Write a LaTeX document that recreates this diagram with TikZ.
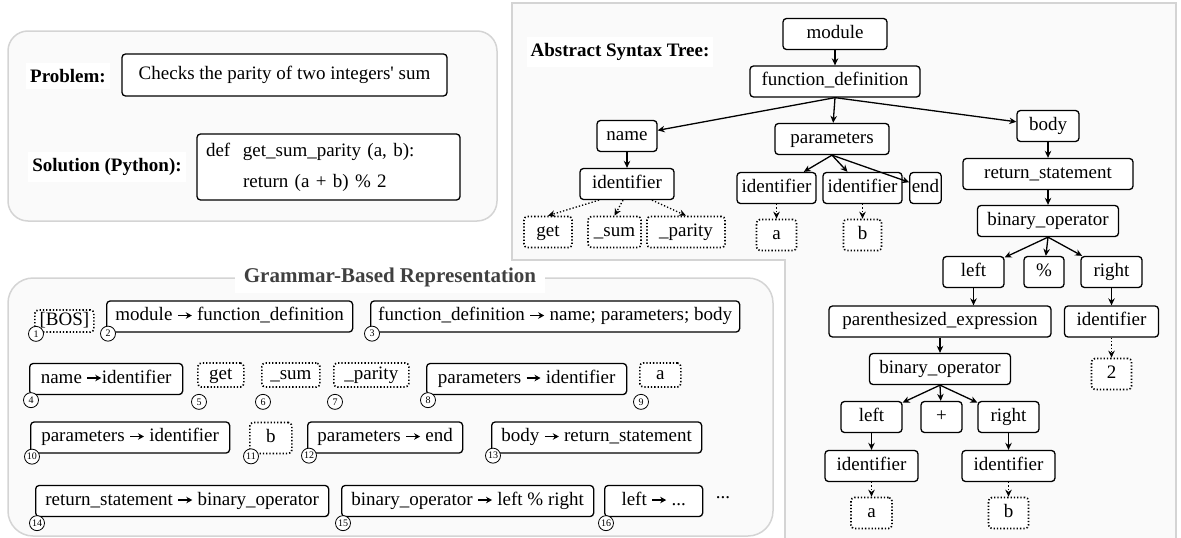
\documentclass[tikz,border=0pt]{standalone}
\usepackage{fontspec}
\setmainfont{Liberation Serif}
\usetikzlibrary{arrows.meta}
\definecolor{panelfill}{HTML}{FAFAFA}
\definecolor{panelline}{HTML}{D4D4D4}
\definecolor{titlegray}{HTML}{404040}
\newcommand{\ra}{\tikz[baseline=-0.6ex]\draw[-{Stealth[length=6pt,width=6.5pt]}, line width=1.2pt, solid] (0pt,0pt) -- (14pt,0pt);}

\begin{document}
\begin{tikzpicture}[x=1pt, y=-1pt,
    box/.style={draw, rounded corners=3.5pt, fill=white, line width=1.3pt, font=\fontsize{19}{22}\selectfont},
    ast/.style={box, minimum height=31pt, text height=13pt, text depth=4.5pt, inner xsep=2pt, inner ysep=0pt},
    tok/.style={ast, dotted, line width=1.7pt},
    rule/.style={ast, anchor=west},
    gtok/.style={tok, anchor=west},
    num/.style={draw, circle, fill=white, line width=0.8pt, inner sep=0pt, minimum size=15pt, font=\fontsize{10}{10}\selectfont},
    edge/.style={-{Stealth[length=7pt,width=6.5pt]}, line width=1.3pt},
    leafedge/.style={edge, dotted},
    panel/.style={fill=panelfill, draw=panelline, line width=1.5pt},
    heading/.style={fill=white, font=\fontsize{19}{22}\selectfont\bfseries, inner xsep=4pt, inner ysep=6pt}]
\useasboundingbox (0,0) rectangle (1181,538);

\fill[panelfill] (512,3) -- (1176,3) -- (1176,540) -- (785,540) -- (785,260) -- (512,260) -- cycle;
\draw[panelline, line width=1.5pt] (785,540) -- (785,260) -- (512,260) -- (512,3) -- (1176,3) -- (1176,540);
\draw[panel, rounded corners=20pt] (8,31) rectangle (497,221);
\draw[panel, rounded corners=25pt] (8,278) rectangle (773,536);

\node[heading] (probhead) at (68,76) {Problem:};
\node[box, minimum width=325pt, minimum height=42pt] (problem) at (284.5,75) {Checks the parity of two integers\textquotesingle{} sum};
\node[heading] (solhead) at (107,167) {Solution (Python):};
\node[box, text width=245pt, inner xsep=9pt, minimum height=66pt, align=left] (solution) at (328.5,167)
  {def\ \ get\_sum\_parity (a, b):\\[9pt]\hspace*{37pt}return (a + b) \% 2};

\node[heading] (asthead) at (620,52) {Abstract Syntax Tree:};
\node[ast, minimum width=104pt] (module) at (835,34) {module};
\node[ast, minimum width=170pt] (fundef) at (835,81.5) {function\_definition};
\node[ast, minimum width=60pt] (name) at (627,136) {name};
\node[ast, minimum width=114pt] (params) at (832,139) {parameters};
\node[ast, minimum width=62pt] (body) at (1048,126) {body};
\node[ast, minimum width=94pt] (nameid) at (627,184) {identifier};
\node[ast, minimum width=79pt] (parid1) at (776.5,188) {identifier};
\node[ast, minimum width=79pt] (parid2) at (862.5,188) {identifier};
\node[ast, minimum width=31pt] (parend) at (925.5,188) {end};
\node[ast, minimum width=170pt] (ret) at (1048,174) {return\_statement};
\node[ast, minimum width=141pt] (binop) at (1048,221) {binary\_operator};
\node[tok, minimum width=48pt] (get) at (548,232) {get};
\node[tok, minimum width=53pt] (sum) at (614.5,232) {\_sum};
\node[tok, minimum width=78pt] (parity) at (686,232) {\_parity};
\node[tok, minimum width=40pt] (leafa) at (776.5,235) {a};
\node[tok, minimum width=38pt] (leafb) at (862.5,235) {b};
\node[ast, minimum width=61pt] (left) at (973.5,272) {left};
\node[ast, minimum width=40pt] (pct) at (1044,272) {\%};
\node[ast, minimum width=61pt] (right) at (1111.5,272) {right};
\node[ast, minimum width=222pt] (paren) at (940,321.5) {parenthesized\_expression};
\node[ast, minimum width=94pt] (rightid) at (1111.5,321.5) {identifier};
\node[tok, minimum width=40pt] (two) at (1111.5,374) {2};
\node[ast, minimum width=141pt] (binop2) at (940,369) {binary\_operator};
\node[ast, minimum width=61pt] (left2) at (871.5,417) {left};
\node[ast, minimum width=41pt] (plus) at (941.5,417) {+};
\node[ast, minimum width=61pt] (right2) at (1008.5,417) {right};
\node[ast, minimum width=93pt] (leftid2) at (871.5,466) {identifier};
\node[ast, minimum width=93pt] (rightid2) at (1008.5,466) {identifier};
\node[tok, minimum width=41pt] (leafa2) at (871.5,513) {a};
\node[tok, minimum width=40pt] (leafb2) at (1008.5,513) {b};

\draw[edge] (module) -- (fundef);
\draw[edge] (fundef.south) -- (name);
\draw[edge] (fundef.south) -- (params);
\draw[edge] (fundef.south) -- (body);
\draw[edge] (name) -- (nameid);
\draw[leafedge] ([xshift=-28pt]nameid.south) -- (get.north);
\draw[leafedge] ([xshift=-4pt]nameid.south) -- (sum.north);
\draw[leafedge] ([xshift=25pt]nameid.south) -- (parity.north);
\draw[edge] (params.south) -- (parid1);
\draw[edge] (params.south) -- (parid2);
\draw[edge] (params.south) -- (parend);
\draw[leafedge] (parid1) -- (leafa);
\draw[leafedge] (parid2) -- (leafb);
\draw[edge] (body) -- (ret);
\draw[edge] (ret) -- (binop);
\draw[edge] (binop.south) -- (left);
\draw[edge] (binop.south) -- (pct);
\draw[edge] (binop.south) -- (right);
\draw[edge] (left) -- (left |- paren.north);
\draw[edge] (right) -- (rightid);
\draw[leafedge] (rightid) -- (two);
\draw[edge] (paren) -- (binop2);
\draw[edge] (binop2.south) -- (left2);
\draw[edge] (binop2.south) -- (plus);
\draw[edge] (binop2.south) -- (right2);
\draw[edge] (left2) -- (leftid2);
\draw[edge] (right2) -- (rightid2);
\draw[leafedge] (leftid2) -- (leafa2);
\draw[leafedge] (rightid2) -- (leafb2);

\node[heading, font=\fontsize{21}{24}\selectfont\bfseries, text=titlegray, inner xsep=9pt] (gramhead) at (390,277) {Grammar-Based Representation};
\node[gtok, minimum width=59pt, minimum height=22pt, text height=13pt, text depth=4pt] (g1) at (34,321) {[BOS]};
\node[rule, minimum width=246pt] (g2) at (106,316.5) {module \ra{} function\_definition};
\node[rule, minimum width=369pt] (g3) at (370,316.5) {function\_definition \ra{} name; parameters; body};
\node[rule, minimum width=153pt] (g4) at (29,379) {name \ra{}identifier};
\node[gtok, minimum width=46pt, minimum height=24pt] (g5) at (197,375) {get};
\node[gtok, minimum width=58pt, minimum height=24pt] (g6) at (261,375) {\_sum};
\node[gtok, minimum width=75pt, minimum height=24pt] (g7) at (333,375) {\_parity};
\node[rule, minimum width=200pt] (g8) at (426,379) {parameters \ra{} identifier};
\node[gtok, minimum width=41pt, minimum height=24pt] (g9) at (639,375) {a};
\node[rule, minimum width=199pt] (g10) at (30,437.5) {parameters \ra{} identifier};
\node[gtok, minimum width=42pt] (g11) at (249,438) {b};
\node[rule, minimum width=155pt] (g12) at (307,437.5) {parameters \ra{} end};
\node[rule, minimum width=210pt] (g13) at (491,437.5) {body \ra{} return\_statement};
\node[rule, minimum width=293pt] (g14) at (35,501) {return\_statement \ra{} binary\_operator};
\node[rule, minimum width=252pt] (g15) at (341,501) {binary\_operator \ra{} left \% right};
\node[rule, minimum width=98pt] (g16) at (604,501) {left \ra{} ...};
\node[font=\fontsize{19}{22}\selectfont] (more) at (723,498) {...};
\foreach \k/\dy in {1/1, 2/1, 3/1, 4/5, 5/14, 6/14, 7/14, 8/5, 9/14, 10/3, 11/2, 12/2, 13/2, 14/6, 15/6, 16/6}
  \node[num] (n\k) at ([shift={(2,\dy)}]g\k.south west) {\k};
\end{tikzpicture}
\end{document}
